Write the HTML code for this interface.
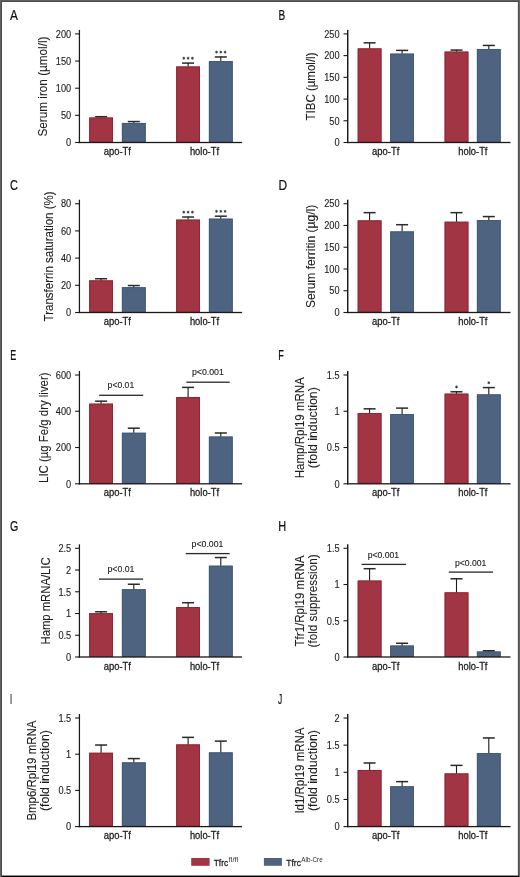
<!DOCTYPE html>
<html><head><meta charset="utf-8"><style>
html,body{margin:0;padding:0;background:#fff;}
.fig{position:relative;width:520px;height:877px;box-sizing:border-box;background:#fff;}
svg{position:absolute;left:0;top:0;will-change:transform;}
text{font-family:"Liberation Sans",sans-serif;fill:#1e1e1e;stroke:#1e1e1e;stroke-width:0.28px;}
text.lab{stroke:#111;stroke-width:0.2px;fill:#111;}
text.pv{stroke-width:0.12px;}
text.tk{stroke-width:0.12px;}
text.ti{stroke-width:0.1px;}
text.sup{stroke:none;fill:#2a2a2a;}
text.st{fill:#3a3a3a;stroke:#3a3a3a;stroke-width:0.25px;}
</style></head><body>
<div class="fig">
<svg width="520" height="877" viewBox="0 0 520 877">
<rect x="0" y="0" width="520" height="877" fill="#fff"/>
<rect x="75.10" y="141.95" width="4" height="1.1" fill="#1a1a1a"/>
<text x="71.20" y="146.25" font-size="10" text-anchor="end" textLength="5.12" lengthAdjust="spacingAndGlyphs" class="tk">0</text>
<rect x="75.10" y="114.80" width="4" height="1.1" fill="#1a1a1a"/>
<text x="71.20" y="119.10" font-size="10" text-anchor="end" textLength="10.23" lengthAdjust="spacingAndGlyphs" class="tk">50</text>
<rect x="75.10" y="87.65" width="4" height="1.1" fill="#1a1a1a"/>
<text x="71.20" y="91.95" font-size="10" text-anchor="end" textLength="15.35" lengthAdjust="spacingAndGlyphs" class="tk">100</text>
<rect x="75.10" y="60.50" width="4" height="1.1" fill="#1a1a1a"/>
<text x="71.20" y="64.80" font-size="10" text-anchor="end" textLength="15.35" lengthAdjust="spacingAndGlyphs" class="tk">150</text>
<rect x="75.10" y="33.35" width="4" height="1.1" fill="#1a1a1a"/>
<text x="71.20" y="37.65" font-size="10" text-anchor="end" textLength="15.35" lengthAdjust="spacingAndGlyphs" class="tk">200</text>
<rect x="89.20" y="117.52" width="23.8" height="24.98" fill="#a13543"/>
<rect x="89.65" y="117.97" width="22.90" height="23.98" fill="none" stroke="#8e2433" stroke-width="0.9"/>
<rect x="100.55" y="116.44" width="1.1" height="1.09" fill="#1a1a1a"/>
<rect x="95.10" y="115.94" width="12" height="1.5" fill="#2a2a2a"/>
<rect x="121.90" y="122.95" width="23.8" height="19.55" fill="#4e6380"/>
<rect x="122.35" y="123.40" width="22.90" height="18.55" fill="none" stroke="#42587a" stroke-width="0.9"/>
<rect x="133.25" y="121.32" width="1.1" height="1.63" fill="#1a1a1a"/>
<rect x="127.80" y="120.82" width="12" height="1.5" fill="#2a2a2a"/>
<rect x="176.20" y="66.48" width="23.8" height="76.02" fill="#a13543"/>
<rect x="176.65" y="66.93" width="22.90" height="75.02" fill="none" stroke="#8e2433" stroke-width="0.9"/>
<rect x="187.55" y="62.84" width="1.1" height="3.64" fill="#1a1a1a"/>
<rect x="182.10" y="62.34" width="12" height="1.5" fill="#2a2a2a"/>
<circle cx="183.80" cy="58.24" r="0.95" fill="#383838"/><path d="M183.80,56.69L183.80,59.79M185.14,57.47L182.46,59.02M185.14,59.02L182.46,57.47" stroke="#3c3c3c" stroke-width="0.65" fill="none"/>
<circle cx="188.10" cy="58.24" r="0.95" fill="#383838"/><path d="M188.10,56.69L188.10,59.79M189.44,57.47L186.76,59.02M189.44,59.02L186.76,57.47" stroke="#3c3c3c" stroke-width="0.65" fill="none"/>
<circle cx="192.40" cy="58.24" r="0.95" fill="#383838"/><path d="M192.40,56.69L192.40,59.79M193.74,57.47L191.06,59.02M193.74,59.02L191.06,57.47" stroke="#3c3c3c" stroke-width="0.65" fill="none"/>
<rect x="208.90" y="61.05" width="23.8" height="81.45" fill="#4e6380"/>
<rect x="209.35" y="61.50" width="22.90" height="80.45" fill="none" stroke="#42587a" stroke-width="0.9"/>
<rect x="220.25" y="56.71" width="1.1" height="4.34" fill="#1a1a1a"/>
<rect x="214.80" y="56.21" width="12" height="1.5" fill="#2a2a2a"/>
<circle cx="216.50" cy="52.11" r="0.95" fill="#383838"/><path d="M216.50,50.56L216.50,53.66M217.84,51.33L215.16,52.88M217.84,52.88L215.16,51.33" stroke="#3c3c3c" stroke-width="0.65" fill="none"/>
<circle cx="220.80" cy="52.11" r="0.95" fill="#383838"/><path d="M220.80,50.56L220.80,53.66M222.14,51.33L219.46,52.88M222.14,52.88L219.46,51.33" stroke="#3c3c3c" stroke-width="0.65" fill="none"/>
<circle cx="225.10" cy="52.11" r="0.95" fill="#383838"/><path d="M225.10,50.56L225.10,53.66M226.44,51.33L223.76,52.88M226.44,52.88L223.76,51.33" stroke="#3c3c3c" stroke-width="0.65" fill="none"/>
<rect x="78.80" y="29.90" width="1.25" height="113.20" fill="#1a1a1a"/><rect x="78.75" y="141.85" width="163.35" height="1.3" fill="#1a1a1a"/>
<text x="103.70" y="155.10" font-size="10" textLength="27.28" lengthAdjust="spacingAndGlyphs">apo-Tf</text>
<text x="189.90" y="155.10" font-size="10" textLength="29.17" lengthAdjust="spacingAndGlyphs">holo-Tf</text>
<text class="ti" transform="translate(47.30,86.50) rotate(-90)" x="0" y="0" font-size="12.5" text-anchor="middle" textLength="100.00" lengthAdjust="spacingAndGlyphs">Serum iron (µmol/l)</text>
<text class="lab" x="10.00" y="19.80" font-size="14.5" textLength="7.90" lengthAdjust="spacingAndGlyphs">A</text>
<rect x="343.50" y="141.95" width="4" height="1.1" fill="#1a1a1a"/>
<text x="339.60" y="146.25" font-size="10" text-anchor="end" textLength="5.12" lengthAdjust="spacingAndGlyphs" class="tk">0</text>
<rect x="343.50" y="120.23" width="4" height="1.1" fill="#1a1a1a"/>
<text x="339.60" y="124.53" font-size="10" text-anchor="end" textLength="10.23" lengthAdjust="spacingAndGlyphs" class="tk">50</text>
<rect x="343.50" y="98.51" width="4" height="1.1" fill="#1a1a1a"/>
<text x="339.60" y="102.81" font-size="10" text-anchor="end" textLength="15.35" lengthAdjust="spacingAndGlyphs" class="tk">100</text>
<rect x="343.50" y="76.79" width="4" height="1.1" fill="#1a1a1a"/>
<text x="339.60" y="81.09" font-size="10" text-anchor="end" textLength="15.35" lengthAdjust="spacingAndGlyphs" class="tk">150</text>
<rect x="343.50" y="55.07" width="4" height="1.1" fill="#1a1a1a"/>
<text x="339.60" y="59.37" font-size="10" text-anchor="end" textLength="15.35" lengthAdjust="spacingAndGlyphs" class="tk">200</text>
<rect x="343.50" y="33.35" width="4" height="1.1" fill="#1a1a1a"/>
<text x="339.60" y="37.65" font-size="10" text-anchor="end" textLength="15.35" lengthAdjust="spacingAndGlyphs" class="tk">250</text>
<rect x="357.70" y="48.41" width="23.8" height="94.09" fill="#a13543"/>
<rect x="358.15" y="48.86" width="22.90" height="93.09" fill="none" stroke="#8e2433" stroke-width="0.9"/>
<rect x="369.05" y="42.59" width="1.1" height="5.82" fill="#1a1a1a"/>
<rect x="363.60" y="42.09" width="12" height="1.5" fill="#2a2a2a"/>
<rect x="390.20" y="53.62" width="23.8" height="88.88" fill="#4e6380"/>
<rect x="390.65" y="54.07" width="22.90" height="87.88" fill="none" stroke="#42587a" stroke-width="0.9"/>
<rect x="401.55" y="50.15" width="1.1" height="3.48" fill="#1a1a1a"/>
<rect x="396.10" y="49.65" width="12" height="1.5" fill="#2a2a2a"/>
<rect x="444.60" y="51.58" width="23.8" height="90.92" fill="#a13543"/>
<rect x="445.05" y="52.03" width="22.90" height="89.92" fill="none" stroke="#8e2433" stroke-width="0.9"/>
<rect x="455.95" y="49.84" width="1.1" height="1.74" fill="#1a1a1a"/>
<rect x="450.50" y="49.34" width="12" height="1.5" fill="#2a2a2a"/>
<rect x="476.90" y="48.97" width="23.8" height="93.53" fill="#4e6380"/>
<rect x="477.35" y="49.42" width="22.90" height="92.53" fill="none" stroke="#42587a" stroke-width="0.9"/>
<rect x="488.25" y="45.19" width="1.1" height="3.78" fill="#1a1a1a"/>
<rect x="482.80" y="44.69" width="12" height="1.5" fill="#2a2a2a"/>
<rect x="347.00" y="29.90" width="1.45" height="113.20" fill="#1a1a1a"/><rect x="347.15" y="141.85" width="163.35" height="1.3" fill="#1a1a1a"/>
<text x="372.10" y="155.10" font-size="10" textLength="27.28" lengthAdjust="spacingAndGlyphs">apo-Tf</text>
<text x="458.30" y="155.10" font-size="10" textLength="29.17" lengthAdjust="spacingAndGlyphs">holo-Tf</text>
<text class="ti" transform="translate(315.30,86.50) rotate(-90)" x="0" y="0" font-size="12.5" text-anchor="middle" textLength="68.00" lengthAdjust="spacingAndGlyphs">TIBC (µmol/l)</text>
<text class="lab" x="278.60" y="19.80" font-size="14.5" textLength="6.70" lengthAdjust="spacingAndGlyphs">B</text>
<rect x="75.10" y="311.95" width="4" height="1.1" fill="#1a1a1a"/>
<text x="71.20" y="316.25" font-size="10" text-anchor="end" textLength="5.12" lengthAdjust="spacingAndGlyphs" class="tk">0</text>
<rect x="75.10" y="284.75" width="4" height="1.1" fill="#1a1a1a"/>
<text x="71.20" y="289.05" font-size="10" text-anchor="end" textLength="10.23" lengthAdjust="spacingAndGlyphs" class="tk">20</text>
<rect x="75.10" y="257.55" width="4" height="1.1" fill="#1a1a1a"/>
<text x="71.20" y="261.85" font-size="10" text-anchor="end" textLength="10.23" lengthAdjust="spacingAndGlyphs" class="tk">40</text>
<rect x="75.10" y="230.35" width="4" height="1.1" fill="#1a1a1a"/>
<text x="71.20" y="234.65" font-size="10" text-anchor="end" textLength="10.23" lengthAdjust="spacingAndGlyphs" class="tk">60</text>
<rect x="75.10" y="203.15" width="4" height="1.1" fill="#1a1a1a"/>
<text x="71.20" y="207.45" font-size="10" text-anchor="end" textLength="10.23" lengthAdjust="spacingAndGlyphs" class="tk">80</text>
<rect x="89.20" y="280.40" width="23.8" height="32.10" fill="#a13543"/>
<rect x="89.65" y="280.85" width="22.90" height="31.10" fill="none" stroke="#8e2433" stroke-width="0.9"/>
<rect x="100.55" y="278.50" width="1.1" height="1.90" fill="#1a1a1a"/>
<rect x="95.10" y="278.00" width="12" height="1.5" fill="#2a2a2a"/>
<rect x="121.90" y="287.20" width="23.8" height="25.30" fill="#4e6380"/>
<rect x="122.35" y="287.65" width="22.90" height="24.30" fill="none" stroke="#42587a" stroke-width="0.9"/>
<rect x="133.25" y="285.30" width="1.1" height="1.90" fill="#1a1a1a"/>
<rect x="127.80" y="284.80" width="12" height="1.5" fill="#2a2a2a"/>
<rect x="176.20" y="219.61" width="23.8" height="92.89" fill="#a13543"/>
<rect x="176.65" y="220.06" width="22.90" height="91.89" fill="none" stroke="#8e2433" stroke-width="0.9"/>
<rect x="187.55" y="216.76" width="1.1" height="2.86" fill="#1a1a1a"/>
<rect x="182.10" y="216.26" width="12" height="1.5" fill="#2a2a2a"/>
<circle cx="183.80" cy="212.16" r="0.95" fill="#383838"/><path d="M183.80,210.61L183.80,213.71M185.14,211.38L182.46,212.93M185.14,212.93L182.46,211.38" stroke="#3c3c3c" stroke-width="0.65" fill="none"/>
<circle cx="188.10" cy="212.16" r="0.95" fill="#383838"/><path d="M188.10,210.61L188.10,213.71M189.44,211.38L186.76,212.93M189.44,212.93L186.76,211.38" stroke="#3c3c3c" stroke-width="0.65" fill="none"/>
<circle cx="192.40" cy="212.16" r="0.95" fill="#383838"/><path d="M192.40,210.61L192.40,213.71M193.74,211.38L191.06,212.93M193.74,212.93L191.06,211.38" stroke="#3c3c3c" stroke-width="0.65" fill="none"/>
<rect x="208.90" y="218.66" width="23.8" height="93.84" fill="#4e6380"/>
<rect x="209.35" y="219.11" width="22.90" height="92.84" fill="none" stroke="#42587a" stroke-width="0.9"/>
<rect x="220.25" y="215.94" width="1.1" height="2.72" fill="#1a1a1a"/>
<rect x="214.80" y="215.44" width="12" height="1.5" fill="#2a2a2a"/>
<circle cx="216.50" cy="211.34" r="0.95" fill="#383838"/><path d="M216.50,209.79L216.50,212.89M217.84,210.56L215.16,212.12M217.84,212.12L215.16,210.56" stroke="#3c3c3c" stroke-width="0.65" fill="none"/>
<circle cx="220.80" cy="211.34" r="0.95" fill="#383838"/><path d="M220.80,209.79L220.80,212.89M222.14,210.56L219.46,212.12M222.14,212.12L219.46,210.56" stroke="#3c3c3c" stroke-width="0.65" fill="none"/>
<circle cx="225.10" cy="211.34" r="0.95" fill="#383838"/><path d="M225.10,209.79L225.10,212.89M226.44,210.56L223.76,212.12M226.44,212.12L223.76,210.56" stroke="#3c3c3c" stroke-width="0.65" fill="none"/>
<rect x="78.80" y="199.70" width="1.25" height="113.40" fill="#1a1a1a"/><rect x="78.75" y="311.85" width="163.35" height="1.3" fill="#1a1a1a"/>
<text x="103.70" y="325.10" font-size="10" textLength="27.28" lengthAdjust="spacingAndGlyphs">apo-Tf</text>
<text x="189.90" y="325.10" font-size="10" textLength="29.17" lengthAdjust="spacingAndGlyphs">holo-Tf</text>
<text class="ti" transform="translate(53.10,256.40) rotate(-90)" x="0" y="0" font-size="12.5" text-anchor="middle" textLength="130.00" lengthAdjust="spacingAndGlyphs">Transferrin saturation (%)</text>
<text class="lab" x="10.00" y="189.90" font-size="14.5" textLength="7.90" lengthAdjust="spacingAndGlyphs">C</text>
<rect x="343.50" y="311.95" width="4" height="1.1" fill="#1a1a1a"/>
<text x="339.60" y="316.25" font-size="10" text-anchor="end" textLength="5.12" lengthAdjust="spacingAndGlyphs" class="tk">0</text>
<rect x="343.50" y="290.19" width="4" height="1.1" fill="#1a1a1a"/>
<text x="339.60" y="294.49" font-size="10" text-anchor="end" textLength="10.23" lengthAdjust="spacingAndGlyphs" class="tk">50</text>
<rect x="343.50" y="268.43" width="4" height="1.1" fill="#1a1a1a"/>
<text x="339.60" y="272.73" font-size="10" text-anchor="end" textLength="15.35" lengthAdjust="spacingAndGlyphs" class="tk">100</text>
<rect x="343.50" y="246.67" width="4" height="1.1" fill="#1a1a1a"/>
<text x="339.60" y="250.97" font-size="10" text-anchor="end" textLength="15.35" lengthAdjust="spacingAndGlyphs" class="tk">150</text>
<rect x="343.50" y="224.91" width="4" height="1.1" fill="#1a1a1a"/>
<text x="339.60" y="229.21" font-size="10" text-anchor="end" textLength="15.35" lengthAdjust="spacingAndGlyphs" class="tk">200</text>
<rect x="343.50" y="203.15" width="4" height="1.1" fill="#1a1a1a"/>
<text x="339.60" y="207.45" font-size="10" text-anchor="end" textLength="15.35" lengthAdjust="spacingAndGlyphs" class="tk">250</text>
<rect x="357.70" y="220.41" width="23.8" height="92.09" fill="#a13543"/>
<rect x="358.15" y="220.86" width="22.90" height="91.09" fill="none" stroke="#8e2433" stroke-width="0.9"/>
<rect x="369.05" y="212.40" width="1.1" height="8.01" fill="#1a1a1a"/>
<rect x="363.60" y="211.90" width="12" height="1.5" fill="#2a2a2a"/>
<rect x="390.20" y="231.42" width="23.8" height="81.08" fill="#4e6380"/>
<rect x="390.65" y="231.87" width="22.90" height="80.08" fill="none" stroke="#42587a" stroke-width="0.9"/>
<rect x="401.55" y="224.46" width="1.1" height="6.96" fill="#1a1a1a"/>
<rect x="396.10" y="223.96" width="12" height="1.5" fill="#2a2a2a"/>
<rect x="444.60" y="221.72" width="23.8" height="90.78" fill="#a13543"/>
<rect x="445.05" y="222.17" width="22.90" height="89.78" fill="none" stroke="#8e2433" stroke-width="0.9"/>
<rect x="455.95" y="212.40" width="1.1" height="9.31" fill="#1a1a1a"/>
<rect x="450.50" y="211.90" width="12" height="1.5" fill="#2a2a2a"/>
<rect x="476.90" y="220.02" width="23.8" height="92.48" fill="#4e6380"/>
<rect x="477.35" y="220.47" width="22.90" height="91.48" fill="none" stroke="#42587a" stroke-width="0.9"/>
<rect x="488.25" y="216.32" width="1.1" height="3.70" fill="#1a1a1a"/>
<rect x="482.80" y="215.82" width="12" height="1.5" fill="#2a2a2a"/>
<rect x="347.00" y="199.70" width="1.45" height="113.40" fill="#1a1a1a"/><rect x="347.15" y="311.85" width="163.35" height="1.3" fill="#1a1a1a"/>
<text x="372.10" y="325.10" font-size="10" textLength="27.28" lengthAdjust="spacingAndGlyphs">apo-Tf</text>
<text x="458.30" y="325.10" font-size="10" textLength="29.17" lengthAdjust="spacingAndGlyphs">holo-Tf</text>
<text class="ti" transform="translate(315.20,256.40) rotate(-90)" x="0" y="0" font-size="12.5" text-anchor="middle" textLength="103.40" lengthAdjust="spacingAndGlyphs">Serum ferritin (µg/l)</text>
<text class="lab" x="278.60" y="189.80" font-size="14.5" textLength="8.60" lengthAdjust="spacingAndGlyphs">D</text>
<rect x="75.10" y="483.25" width="4" height="1.1" fill="#1a1a1a"/>
<text x="71.20" y="487.55" font-size="10" text-anchor="end" textLength="5.12" lengthAdjust="spacingAndGlyphs" class="tk">0</text>
<rect x="75.10" y="446.98" width="4" height="1.1" fill="#1a1a1a"/>
<text x="71.20" y="451.28" font-size="10" text-anchor="end" textLength="15.35" lengthAdjust="spacingAndGlyphs" class="tk">200</text>
<rect x="75.10" y="410.72" width="4" height="1.1" fill="#1a1a1a"/>
<text x="71.20" y="415.02" font-size="10" text-anchor="end" textLength="15.35" lengthAdjust="spacingAndGlyphs" class="tk">400</text>
<rect x="75.10" y="374.45" width="4" height="1.1" fill="#1a1a1a"/>
<text x="71.20" y="378.75" font-size="10" text-anchor="end" textLength="15.35" lengthAdjust="spacingAndGlyphs" class="tk">600</text>
<rect x="89.20" y="403.65" width="23.8" height="80.15" fill="#a13543"/>
<rect x="89.65" y="404.10" width="22.90" height="79.15" fill="none" stroke="#8e2433" stroke-width="0.9"/>
<rect x="100.55" y="400.93" width="1.1" height="2.72" fill="#1a1a1a"/>
<rect x="95.10" y="400.43" width="12" height="1.5" fill="#2a2a2a"/>
<rect x="121.90" y="432.75" width="23.8" height="51.05" fill="#4e6380"/>
<rect x="122.35" y="433.20" width="22.90" height="50.05" fill="none" stroke="#42587a" stroke-width="0.9"/>
<rect x="133.25" y="427.95" width="1.1" height="4.81" fill="#1a1a1a"/>
<rect x="127.80" y="427.45" width="12" height="1.5" fill="#2a2a2a"/>
<rect x="176.20" y="397.12" width="23.8" height="86.68" fill="#a13543"/>
<rect x="176.65" y="397.57" width="22.90" height="85.68" fill="none" stroke="#8e2433" stroke-width="0.9"/>
<rect x="187.55" y="387.15" width="1.1" height="9.97" fill="#1a1a1a"/>
<rect x="182.10" y="386.65" width="12" height="1.5" fill="#2a2a2a"/>
<rect x="208.90" y="436.54" width="23.8" height="47.26" fill="#4e6380"/>
<rect x="209.35" y="436.99" width="22.90" height="46.26" fill="none" stroke="#42587a" stroke-width="0.9"/>
<rect x="220.25" y="432.74" width="1.1" height="3.81" fill="#1a1a1a"/>
<rect x="214.80" y="432.24" width="12" height="1.5" fill="#2a2a2a"/>
<rect x="78.80" y="371.00" width="1.25" height="113.40" fill="#1a1a1a"/><rect x="78.75" y="483.15" width="163.35" height="1.3" fill="#1a1a1a"/>
<text x="103.70" y="496.40" font-size="10" textLength="27.28" lengthAdjust="spacingAndGlyphs">apo-Tf</text>
<text x="189.90" y="496.40" font-size="10" textLength="29.17" lengthAdjust="spacingAndGlyphs">holo-Tf</text>
<rect x="99.20" y="394.65" width="44.00" height="1.3" fill="#2a2a2a"/>
<text class="pv" x="107.60" y="388.40" font-size="8.5" textLength="26.60" lengthAdjust="spacingAndGlyphs">p&lt;0.01</text>
<rect x="186.40" y="381.55" width="43.30" height="1.3" fill="#2a2a2a"/>
<text class="pv" x="191.90" y="375.00" font-size="8.5" textLength="32.00" lengthAdjust="spacingAndGlyphs">p&lt;0.001</text>
<text class="ti" transform="translate(47.50,427.70) rotate(-90)" x="0" y="0" font-size="12.5" text-anchor="middle" textLength="110.40" lengthAdjust="spacingAndGlyphs">LIC (µg Fe/g dry liver)</text>
<text class="lab" x="10.20" y="360.00" font-size="14.5" textLength="6.00" lengthAdjust="spacingAndGlyphs">E</text>
<rect x="343.50" y="483.25" width="4" height="1.1" fill="#1a1a1a"/>
<text x="339.60" y="487.55" font-size="10" text-anchor="end" textLength="5.12" lengthAdjust="spacingAndGlyphs" class="tk">0</text>
<rect x="343.50" y="446.98" width="4" height="1.1" fill="#1a1a1a"/>
<text x="339.60" y="451.28" font-size="10" text-anchor="end" textLength="12.79" lengthAdjust="spacingAndGlyphs" class="tk">0.5</text>
<rect x="343.50" y="410.72" width="4" height="1.1" fill="#1a1a1a"/>
<text x="339.60" y="415.02" font-size="10" text-anchor="end" textLength="5.12" lengthAdjust="spacingAndGlyphs" class="tk">1</text>
<rect x="343.50" y="374.45" width="4" height="1.1" fill="#1a1a1a"/>
<text x="339.60" y="378.75" font-size="10" text-anchor="end" textLength="12.79" lengthAdjust="spacingAndGlyphs" class="tk">1.5</text>
<rect x="357.70" y="413.08" width="23.8" height="70.72" fill="#a13543"/>
<rect x="358.15" y="413.53" width="22.90" height="69.72" fill="none" stroke="#8e2433" stroke-width="0.9"/>
<rect x="369.05" y="408.58" width="1.1" height="4.50" fill="#1a1a1a"/>
<rect x="363.60" y="408.08" width="12" height="1.5" fill="#2a2a2a"/>
<rect x="390.20" y="414.10" width="23.8" height="69.70" fill="#4e6380"/>
<rect x="390.65" y="414.55" width="22.90" height="68.70" fill="none" stroke="#42587a" stroke-width="0.9"/>
<rect x="401.55" y="407.86" width="1.1" height="6.24" fill="#1a1a1a"/>
<rect x="396.10" y="407.36" width="12" height="1.5" fill="#2a2a2a"/>
<rect x="444.60" y="393.64" width="23.8" height="90.16" fill="#a13543"/>
<rect x="445.05" y="394.09" width="22.90" height="89.16" fill="none" stroke="#8e2433" stroke-width="0.9"/>
<rect x="455.95" y="391.54" width="1.1" height="2.10" fill="#1a1a1a"/>
<rect x="450.50" y="391.04" width="12" height="1.5" fill="#2a2a2a"/>
<circle cx="456.50" cy="386.94" r="0.95" fill="#383838"/><path d="M456.50,385.39L456.50,388.49M457.84,386.16L455.16,387.71M457.84,387.71L455.16,386.16" stroke="#3c3c3c" stroke-width="0.65" fill="none"/>
<rect x="476.90" y="394.37" width="23.8" height="89.43" fill="#4e6380"/>
<rect x="477.35" y="394.82" width="22.90" height="88.43" fill="none" stroke="#42587a" stroke-width="0.9"/>
<rect x="488.25" y="387.33" width="1.1" height="7.04" fill="#1a1a1a"/>
<rect x="482.80" y="386.83" width="12" height="1.5" fill="#2a2a2a"/>
<circle cx="488.80" cy="382.73" r="0.95" fill="#383838"/><path d="M488.80,381.18L488.80,384.28M490.14,381.96L487.46,383.51M490.14,383.51L487.46,381.96" stroke="#3c3c3c" stroke-width="0.65" fill="none"/>
<rect x="347.00" y="371.00" width="1.45" height="113.40" fill="#1a1a1a"/><rect x="347.15" y="483.15" width="163.35" height="1.3" fill="#1a1a1a"/>
<text x="372.10" y="496.40" font-size="10" textLength="27.28" lengthAdjust="spacingAndGlyphs">apo-Tf</text>
<text x="458.30" y="496.40" font-size="10" textLength="29.17" lengthAdjust="spacingAndGlyphs">holo-Tf</text>
<text class="ti" transform="translate(304.30,427.70) rotate(-90)" x="0" y="0" font-size="12.5" text-anchor="middle" textLength="101.00" lengthAdjust="spacingAndGlyphs">Hamp/Rpl19 mRNA</text>
<text class="ti" transform="translate(317.00,427.70) rotate(-90)" x="0" y="0" font-size="12.5" text-anchor="middle" textLength="81.00" lengthAdjust="spacingAndGlyphs">(fold induction)</text>
<text class="lab" x="278.30" y="359.80" font-size="14.5" textLength="5.60" lengthAdjust="spacingAndGlyphs">F</text>
<rect x="75.10" y="656.45" width="4" height="1.1" fill="#1a1a1a"/>
<text x="71.20" y="660.75" font-size="10" text-anchor="end" textLength="5.12" lengthAdjust="spacingAndGlyphs" class="tk">0</text>
<rect x="75.10" y="634.71" width="4" height="1.1" fill="#1a1a1a"/>
<text x="71.20" y="639.01" font-size="10" text-anchor="end" textLength="12.79" lengthAdjust="spacingAndGlyphs" class="tk">0.5</text>
<rect x="75.10" y="612.97" width="4" height="1.1" fill="#1a1a1a"/>
<text x="71.20" y="617.27" font-size="10" text-anchor="end" textLength="5.12" lengthAdjust="spacingAndGlyphs" class="tk">1</text>
<rect x="75.10" y="591.23" width="4" height="1.1" fill="#1a1a1a"/>
<text x="71.20" y="595.53" font-size="10" text-anchor="end" textLength="12.79" lengthAdjust="spacingAndGlyphs" class="tk">1.5</text>
<rect x="75.10" y="569.49" width="4" height="1.1" fill="#1a1a1a"/>
<text x="71.20" y="573.79" font-size="10" text-anchor="end" textLength="5.12" lengthAdjust="spacingAndGlyphs" class="tk">2</text>
<rect x="75.10" y="547.75" width="4" height="1.1" fill="#1a1a1a"/>
<text x="71.20" y="552.05" font-size="10" text-anchor="end" textLength="12.79" lengthAdjust="spacingAndGlyphs" class="tk">2.5</text>
<rect x="89.20" y="613.22" width="23.8" height="43.78" fill="#a13543"/>
<rect x="89.65" y="613.67" width="22.90" height="42.78" fill="none" stroke="#8e2433" stroke-width="0.9"/>
<rect x="100.55" y="611.52" width="1.1" height="1.70" fill="#1a1a1a"/>
<rect x="95.10" y="611.02" width="12" height="1.5" fill="#2a2a2a"/>
<rect x="121.90" y="589.21" width="23.8" height="67.79" fill="#4e6380"/>
<rect x="122.35" y="589.66" width="22.90" height="66.79" fill="none" stroke="#42587a" stroke-width="0.9"/>
<rect x="133.25" y="584.00" width="1.1" height="5.22" fill="#1a1a1a"/>
<rect x="127.80" y="583.50" width="12" height="1.5" fill="#2a2a2a"/>
<rect x="176.20" y="607.00" width="23.8" height="50.00" fill="#a13543"/>
<rect x="176.65" y="607.45" width="22.90" height="49.00" fill="none" stroke="#8e2433" stroke-width="0.9"/>
<rect x="187.55" y="602.48" width="1.1" height="4.52" fill="#1a1a1a"/>
<rect x="182.10" y="601.98" width="12" height="1.5" fill="#2a2a2a"/>
<rect x="208.90" y="565.69" width="23.8" height="91.31" fill="#4e6380"/>
<rect x="209.35" y="566.14" width="22.90" height="90.31" fill="none" stroke="#42587a" stroke-width="0.9"/>
<rect x="220.25" y="557.30" width="1.1" height="8.39" fill="#1a1a1a"/>
<rect x="214.80" y="556.80" width="12" height="1.5" fill="#2a2a2a"/>
<rect x="78.80" y="544.30" width="1.25" height="113.30" fill="#1a1a1a"/><rect x="78.75" y="656.35" width="163.35" height="1.3" fill="#1a1a1a"/>
<text x="103.70" y="669.60" font-size="10" textLength="27.28" lengthAdjust="spacingAndGlyphs">apo-Tf</text>
<text x="189.90" y="669.60" font-size="10" textLength="29.17" lengthAdjust="spacingAndGlyphs">holo-Tf</text>
<rect x="99.00" y="578.45" width="44.10" height="1.3" fill="#2a2a2a"/>
<text class="pv" x="107.50" y="572.30" font-size="8.5" textLength="26.90" lengthAdjust="spacingAndGlyphs">p&lt;0.01</text>
<rect x="185.80" y="552.95" width="43.90" height="1.3" fill="#2a2a2a"/>
<text class="pv" x="191.60" y="547.10" font-size="8.5" textLength="31.80" lengthAdjust="spacingAndGlyphs">p&lt;0.001</text>
<text class="ti" transform="translate(50.00,600.95) rotate(-90)" x="0" y="0" font-size="12.5" text-anchor="middle" textLength="87.00" lengthAdjust="spacingAndGlyphs">Hamp mRNA/LIC</text>
<text class="lab" x="10.00" y="530.90" font-size="14.5" textLength="8.30" lengthAdjust="spacingAndGlyphs">G</text>
<rect x="343.50" y="656.45" width="4" height="1.1" fill="#1a1a1a"/>
<text x="339.60" y="660.75" font-size="10" text-anchor="end" textLength="5.12" lengthAdjust="spacingAndGlyphs" class="tk">0</text>
<rect x="343.50" y="620.22" width="4" height="1.1" fill="#1a1a1a"/>
<text x="339.60" y="624.52" font-size="10" text-anchor="end" textLength="12.79" lengthAdjust="spacingAndGlyphs" class="tk">0.5</text>
<rect x="343.50" y="583.98" width="4" height="1.1" fill="#1a1a1a"/>
<text x="339.60" y="588.28" font-size="10" text-anchor="end" textLength="5.12" lengthAdjust="spacingAndGlyphs" class="tk">1</text>
<rect x="343.50" y="547.75" width="4" height="1.1" fill="#1a1a1a"/>
<text x="339.60" y="552.05" font-size="10" text-anchor="end" textLength="12.79" lengthAdjust="spacingAndGlyphs" class="tk">1.5</text>
<rect x="357.70" y="580.55" width="23.8" height="76.45" fill="#a13543"/>
<rect x="358.15" y="581.00" width="22.90" height="75.45" fill="none" stroke="#8e2433" stroke-width="0.9"/>
<rect x="369.05" y="568.45" width="1.1" height="12.10" fill="#1a1a1a"/>
<rect x="363.60" y="567.95" width="12" height="1.5" fill="#2a2a2a"/>
<rect x="390.20" y="645.55" width="23.8" height="11.45" fill="#4e6380"/>
<rect x="390.65" y="646.00" width="22.90" height="10.45" fill="none" stroke="#42587a" stroke-width="0.9"/>
<rect x="401.55" y="643.01" width="1.1" height="2.54" fill="#1a1a1a"/>
<rect x="396.10" y="642.51" width="12" height="1.5" fill="#2a2a2a"/>
<rect x="444.60" y="592.36" width="23.8" height="64.64" fill="#a13543"/>
<rect x="445.05" y="592.81" width="22.90" height="63.64" fill="none" stroke="#8e2433" stroke-width="0.9"/>
<rect x="455.95" y="578.52" width="1.1" height="13.84" fill="#1a1a1a"/>
<rect x="450.50" y="578.02" width="12" height="1.5" fill="#2a2a2a"/>
<rect x="476.90" y="651.49" width="23.8" height="5.51" fill="#4e6380"/>
<rect x="477.35" y="651.94" width="22.90" height="4.51" fill="none" stroke="#42587a" stroke-width="0.9"/>
<rect x="488.25" y="650.48" width="1.1" height="1.01" fill="#1a1a1a"/>
<rect x="482.80" y="649.98" width="12" height="1.5" fill="#2a2a2a"/>
<rect x="347.00" y="544.30" width="1.45" height="113.30" fill="#1a1a1a"/><rect x="347.15" y="656.35" width="163.35" height="1.3" fill="#1a1a1a"/>
<text x="372.10" y="669.60" font-size="10" textLength="27.28" lengthAdjust="spacingAndGlyphs">apo-Tf</text>
<text x="458.30" y="669.60" font-size="10" textLength="29.17" lengthAdjust="spacingAndGlyphs">holo-Tf</text>
<rect x="361.60" y="563.75" width="44.40" height="1.3" fill="#2a2a2a"/>
<text class="pv" x="367.70" y="557.80" font-size="8.5" textLength="31.50" lengthAdjust="spacingAndGlyphs">p&lt;0.001</text>
<rect x="448.80" y="571.45" width="44.20" height="1.3" fill="#2a2a2a"/>
<text class="pv" x="454.90" y="565.50" font-size="8.5" textLength="31.50" lengthAdjust="spacingAndGlyphs">p&lt;0.001</text>
<text class="ti" transform="translate(304.30,600.95) rotate(-90)" x="0" y="0" font-size="12.5" text-anchor="middle" textLength="91.00" lengthAdjust="spacingAndGlyphs">Tfr1/Rpl19 mRNA</text>
<text class="ti" transform="translate(316.50,600.95) rotate(-90)" x="0" y="0" font-size="12.5" text-anchor="middle" textLength="93.00" lengthAdjust="spacingAndGlyphs">(fold suppression)</text>
<text class="lab" x="278.30" y="531.00" font-size="14.5" textLength="7.90" lengthAdjust="spacingAndGlyphs">H</text>
<rect x="75.10" y="826.05" width="4" height="1.1" fill="#1a1a1a"/>
<text x="71.20" y="830.35" font-size="10" text-anchor="end" textLength="5.12" lengthAdjust="spacingAndGlyphs" class="tk">0</text>
<rect x="75.10" y="789.85" width="4" height="1.1" fill="#1a1a1a"/>
<text x="71.20" y="794.15" font-size="10" text-anchor="end" textLength="12.79" lengthAdjust="spacingAndGlyphs" class="tk">0.5</text>
<rect x="75.10" y="753.65" width="4" height="1.1" fill="#1a1a1a"/>
<text x="71.20" y="757.95" font-size="10" text-anchor="end" textLength="5.12" lengthAdjust="spacingAndGlyphs" class="tk">1</text>
<rect x="75.10" y="717.45" width="4" height="1.1" fill="#1a1a1a"/>
<text x="71.20" y="721.75" font-size="10" text-anchor="end" textLength="12.79" lengthAdjust="spacingAndGlyphs" class="tk">1.5</text>
<rect x="89.20" y="752.75" width="23.8" height="73.85" fill="#a13543"/>
<rect x="89.65" y="753.20" width="22.90" height="72.85" fill="none" stroke="#8e2433" stroke-width="0.9"/>
<rect x="100.55" y="744.79" width="1.1" height="7.96" fill="#1a1a1a"/>
<rect x="95.10" y="744.29" width="12" height="1.5" fill="#2a2a2a"/>
<rect x="121.90" y="762.38" width="23.8" height="64.22" fill="#4e6380"/>
<rect x="122.35" y="762.83" width="22.90" height="63.22" fill="none" stroke="#42587a" stroke-width="0.9"/>
<rect x="133.25" y="758.33" width="1.1" height="4.05" fill="#1a1a1a"/>
<rect x="127.80" y="757.83" width="12" height="1.5" fill="#2a2a2a"/>
<rect x="176.20" y="744.43" width="23.8" height="82.17" fill="#a13543"/>
<rect x="176.65" y="744.88" width="22.90" height="81.17" fill="none" stroke="#8e2433" stroke-width="0.9"/>
<rect x="187.55" y="737.11" width="1.1" height="7.31" fill="#1a1a1a"/>
<rect x="182.10" y="736.61" width="12" height="1.5" fill="#2a2a2a"/>
<rect x="208.90" y="752.39" width="23.8" height="74.21" fill="#4e6380"/>
<rect x="209.35" y="752.84" width="22.90" height="73.21" fill="none" stroke="#42587a" stroke-width="0.9"/>
<rect x="220.25" y="740.88" width="1.1" height="11.51" fill="#1a1a1a"/>
<rect x="214.80" y="740.38" width="12" height="1.5" fill="#2a2a2a"/>
<rect x="78.80" y="714.00" width="1.25" height="113.20" fill="#1a1a1a"/><rect x="78.75" y="825.95" width="163.35" height="1.3" fill="#1a1a1a"/>
<text x="103.70" y="839.20" font-size="10" textLength="27.28" lengthAdjust="spacingAndGlyphs">apo-Tf</text>
<text x="189.90" y="839.20" font-size="10" textLength="29.17" lengthAdjust="spacingAndGlyphs">holo-Tf</text>
<text class="ti" transform="translate(35.80,770.60) rotate(-90)" x="0" y="0" font-size="12.5" text-anchor="middle" textLength="100.00" lengthAdjust="spacingAndGlyphs">Bmp6/Rpl19 mRNA</text>
<text class="ti" transform="translate(48.70,770.60) rotate(-90)" x="0" y="0" font-size="12.5" text-anchor="middle" textLength="81.00" lengthAdjust="spacingAndGlyphs">(fold induction)</text>
<text class="lab" x="10.00" y="704.40" font-size="14.5" textLength="2.10" lengthAdjust="spacingAndGlyphs">I</text>
<rect x="343.50" y="826.05" width="4" height="1.1" fill="#1a1a1a"/>
<text x="339.60" y="830.35" font-size="10" text-anchor="end" textLength="5.12" lengthAdjust="spacingAndGlyphs" class="tk">0</text>
<rect x="343.50" y="798.90" width="4" height="1.1" fill="#1a1a1a"/>
<text x="339.60" y="803.20" font-size="10" text-anchor="end" textLength="12.79" lengthAdjust="spacingAndGlyphs" class="tk">0.5</text>
<rect x="343.50" y="771.75" width="4" height="1.1" fill="#1a1a1a"/>
<text x="339.60" y="776.05" font-size="10" text-anchor="end" textLength="5.12" lengthAdjust="spacingAndGlyphs" class="tk">1</text>
<rect x="343.50" y="744.60" width="4" height="1.1" fill="#1a1a1a"/>
<text x="339.60" y="748.90" font-size="10" text-anchor="end" textLength="12.79" lengthAdjust="spacingAndGlyphs" class="tk">1.5</text>
<rect x="343.50" y="717.45" width="4" height="1.1" fill="#1a1a1a"/>
<text x="339.60" y="721.75" font-size="10" text-anchor="end" textLength="5.12" lengthAdjust="spacingAndGlyphs" class="tk">2</text>
<rect x="357.70" y="769.97" width="23.8" height="56.63" fill="#a13543"/>
<rect x="358.15" y="770.42" width="22.90" height="55.63" fill="none" stroke="#8e2433" stroke-width="0.9"/>
<rect x="369.05" y="762.74" width="1.1" height="7.22" fill="#1a1a1a"/>
<rect x="363.60" y="762.24" width="12" height="1.5" fill="#2a2a2a"/>
<rect x="390.20" y="786.26" width="23.8" height="40.34" fill="#4e6380"/>
<rect x="390.65" y="786.71" width="22.90" height="39.34" fill="none" stroke="#42587a" stroke-width="0.9"/>
<rect x="401.55" y="781.37" width="1.1" height="4.89" fill="#1a1a1a"/>
<rect x="396.10" y="780.87" width="12" height="1.5" fill="#2a2a2a"/>
<rect x="444.60" y="773.44" width="23.8" height="53.16" fill="#a13543"/>
<rect x="445.05" y="773.89" width="22.90" height="52.16" fill="none" stroke="#8e2433" stroke-width="0.9"/>
<rect x="455.95" y="765.13" width="1.1" height="8.31" fill="#1a1a1a"/>
<rect x="450.50" y="764.63" width="12" height="1.5" fill="#2a2a2a"/>
<rect x="476.90" y="753.02" width="23.8" height="73.58" fill="#4e6380"/>
<rect x="477.35" y="753.47" width="22.90" height="72.58" fill="none" stroke="#42587a" stroke-width="0.9"/>
<rect x="488.25" y="737.71" width="1.1" height="15.31" fill="#1a1a1a"/>
<rect x="482.80" y="737.21" width="12" height="1.5" fill="#2a2a2a"/>
<rect x="347.00" y="714.00" width="1.45" height="113.20" fill="#1a1a1a"/><rect x="347.15" y="825.95" width="163.35" height="1.3" fill="#1a1a1a"/>
<text x="372.10" y="839.20" font-size="10" textLength="27.28" lengthAdjust="spacingAndGlyphs">apo-Tf</text>
<text x="458.30" y="839.20" font-size="10" textLength="29.17" lengthAdjust="spacingAndGlyphs">holo-Tf</text>
<text class="ti" transform="translate(304.20,770.60) rotate(-90)" x="0" y="0" font-size="12.5" text-anchor="middle" textLength="86.00" lengthAdjust="spacingAndGlyphs">Id1/Rpl19 mRNA</text>
<text class="ti" transform="translate(317.00,770.60) rotate(-90)" x="0" y="0" font-size="12.5" text-anchor="middle" textLength="81.00" lengthAdjust="spacingAndGlyphs">(fold induction)</text>
<text class="lab" x="278.00" y="704.40" font-size="14.5" textLength="4.20" lengthAdjust="spacingAndGlyphs">J</text>
<rect x="191.2" y="858" width="18.4" height="7.8" fill="#a13543"/>
<text x="213.70" y="865.60" font-size="9.6" text-anchor="start" textLength="14.60" lengthAdjust="spacingAndGlyphs" >Tfrc</text>
<text x="228.80" y="861.50" font-size="6.5" text-anchor="start" textLength="9.20" lengthAdjust="spacingAndGlyphs" class="sup">fl/fl</text>
<rect x="263.9" y="858" width="18" height="7.8" fill="#4e6380"/>
<text x="286.30" y="865.60" font-size="9.6" text-anchor="start" textLength="14.60" lengthAdjust="spacingAndGlyphs" >Tfrc</text>
<text x="301.30" y="862.00" font-size="6.5" text-anchor="start" textLength="21.40" lengthAdjust="spacingAndGlyphs" class="sup">Alb-Cre</text>
<rect x="0" y="0" width="520" height="1" fill="#606060"/>
<rect x="1" y="1" width="518" height="1" fill="#4b4b4b"/>
<rect x="0" y="0" width="1" height="877" fill="#606060"/>
<rect x="1" y="1" width="1" height="876" fill="#4c4c4c"/>
<rect x="519" y="0" width="1" height="877" fill="#656565"/>
<rect x="518" y="1" width="1" height="876" fill="#4f4f4f"/>
<rect x="517" y="2" width="1" height="873" fill="#e6e6e6"/>
<rect x="2" y="875" width="516" height="1" fill="#8c8c8c"/>
<rect x="2" y="876" width="517" height="1" fill="#030303"/>
</svg>
</div>
</body></html>
